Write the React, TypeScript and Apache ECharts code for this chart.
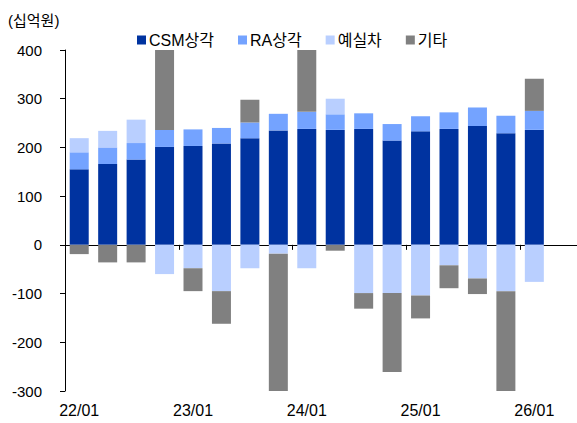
import React, { useEffect, useRef } from "react";
import * as echarts from "echarts";

const categories = [
  "22/01", "22/04", "22/07", "22/10",
  "23/01", "23/04", "23/07", "23/10",
  "24/01", "24/04", "24/07", "24/10",
  "25/01", "25/04", "25/07", "25/10",
  "26/01", "26/04",
];
const csm = [155, 166, 175, 201, 203, 208, 219, 235, 238, 236, 238, 214, 233, 238, 244, 229, 236, null];
const ra = [35, 34, 34, 35, 34, 32, 32, 34, 35, 32, 32, 34, 31, 34, 38, 36, 39, null];
const yesilcha = [29, 34, 48, -60, -48, -95, -48, -18, -48, 32, -99, -99, -104, -42, -69, -95, -76, null];
const others = [-19, -36, -36, 200, -47, -67, 47, -300, 170, -12, -32, -162, -47, -47, -32, -220, 66, null];
const seriesNames = ["CSM상각", "RA상각", "예실차", "기타"];
const colors = ["#0033A0", "#74A3FF", "#B9CFFF", "#808080"];
const yTicks = { min: -300, max: 400, interval: 100 };

const FONT = "'Liberation Sans', Arial, 'Noto Sans CJK KR', sans-serif";

export default function App() {
  const ref = useRef<HTMLDivElement>(null);
  useEffect(() => {
    if (!ref.current) return;
    const chart = echarts.init(ref.current, null, { renderer: "svg" });
    const dataSets = [csm, ra, yesilcha, others];
    chart.setOption({
      animation: false,
      textStyle: { fontFamily: FONT },
      title: {
        text: "(십억원)",
        left: 3,
        top: 8,
        textStyle: { fontSize: 15, fontWeight: "normal", color: "#000", fontFamily: FONT },
      },
      legend: {
        data: seriesNames,
        left: 132,
        top: 27,
        itemWidth: 9,
        itemHeight: 9,
        itemGap: 24,
        icon: "rect",
        textStyle: { fontSize: 16, color: "#000", padding: [0, 0, 0, -2], fontFamily: FONT },
      },
      grid: { left: 65, right: 0, top: 50, bottom: 32, containLabel: false },
      xAxis: [
        {
          type: "category",
          data: categories,
          position: "bottom",
          axisLine: { show: true, onZero: true, lineStyle: { color: "#000", width: 1 } },
          axisTick: { show: true, interval: 3, length: 5, lineStyle: { color: "#000" } },
          axisLabel: { show: false },
          splitLine: { show: false },
        },
        {
          type: "category",
          data: categories,
          position: "bottom",
          axisLine: { show: false, onZero: false },
          axisTick: { show: false },
          axisLabel: {
            show: true,
            interval: 3,
            margin: 11,
            fontSize: 16,
            color: "#000",
            fontFamily: FONT,
          },
          splitLine: { show: false },
        },
      ],
      yAxis: {
        type: "value",
        min: yTicks.min,
        max: yTicks.max,
        interval: yTicks.interval,
        axisLine: { show: true, lineStyle: { color: "#000", width: 1 } },
        axisTick: { show: true, length: 5, lineStyle: { color: "#000" } },
        axisLabel: { fontSize: 15, color: "#000", margin: 23, fontFamily: FONT },
        splitLine: { show: false },
      },
      series: seriesNames.map((name, i) => ({
        name,
        type: "bar",
        stack: "total",
        xAxisIndex: 0,
        barWidth: 19,
        data: dataSets[i],
        itemStyle: { color: colors[i] },
        emphasis: { disabled: true },
      })),
    });
    return () => chart.dispose();
  }, []);
  return (
    <div
      ref={ref}
      style={{ position: "fixed", left: 0, top: 0, width: 577, height: 423, background: "#fff" }}
    />
  );
}
